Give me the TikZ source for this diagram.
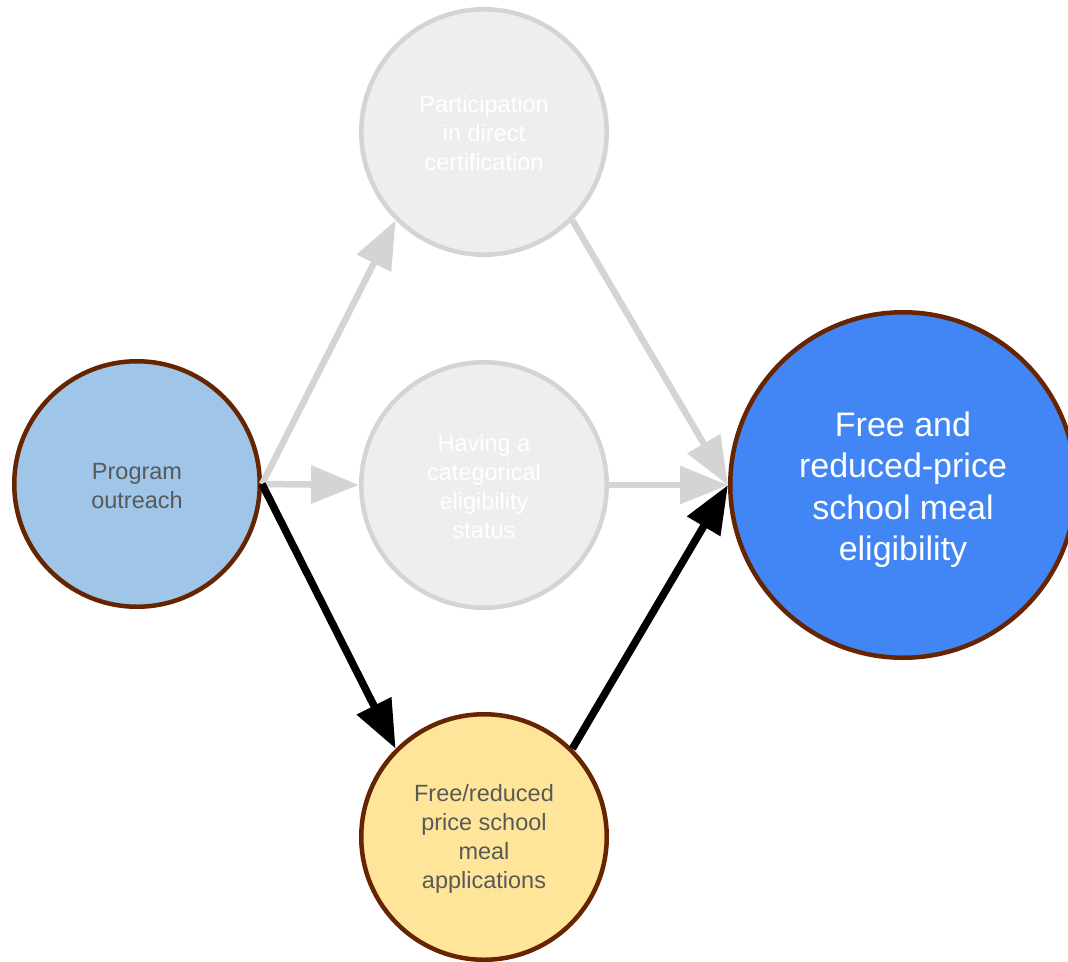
\documentclass[tikz,border=0pt]{standalone}
\usepackage{fontspec}
\setmainfont{Liberation Sans}
\usetikzlibrary{arrows.meta}
\definecolor{brownline}{RGB}{102,36,0}
\definecolor{lightblue}{HTML}{9FC5E8}
\definecolor{bigblue}{HTML}{4285F4}
\definecolor{paleyellow}{HTML}{FFE599}
\definecolor{greyfill}{HTML}{EEEEEE}
\definecolor{greyline}{HTML}{D4D4D4}
\definecolor{darktext}{HTML}{595959}
\newcommand{\firststrut}[1]{\rule{0pt}{#1}}
\tikzset{
  circ/.style={circle, inner sep=0pt, line width=4.5pt, minimum size=245.5pt, align=center,
    font=\fontsize{23.5}{29}\selectfont},
  active/.style={circ, draw=brownline, text=darktext},
  faded/.style={circ, draw=greyline, fill=greyfill, text=white},
  greyarrow/.style={line width=6.5pt, draw=greyline, -{Triangle[length=48pt,width=37pt,fill=greyline]}},
  blackarrow/.style={line width=7.5pt, draw=black, -{Triangle[length=48pt,width=37pt,fill=black]}}
}
\begin{document}
\begin{tikzpicture}[x=1pt,y=-1pt]
\useasboundingbox (0,0) rectangle (1068,961);
\node[active, fill=lightblue] (out) at (137,484) {\firststrut{21pt}Program\\outreach};
\node[faded] (part) at (484,132) {\firststrut{20pt}Participation\\in direct\\certification};
\node[faded] (cat) at (484,485) {\firststrut{21pt}Having a\\categorical\\eligibility\\status};
\node[active, fill=paleyellow] (app) at (484,837) {\firststrut{21pt}Free/reduced\\price school\\meal\\applications};
\node[circ, draw=brownline, fill=bigblue, text=white, minimum size=345.5pt,
  font=\fontsize{34}{41.5}\selectfont] (big) at (903,485) {\firststrut{34pt}Free and\\reduced-price\\school meal\\eligibility};
\draw[greyarrow] (out.east) -- (part.south west);
\draw[greyarrow] (out.east) -- (cat.west);
\draw[greyarrow] (part.south east) -- (big.west);
\draw[greyarrow] (cat.east) -- (big.west);
\draw[blackarrow] (out.east) -- (app.north west);
\draw[blackarrow] (app.north east) -- (big.west);
\end{tikzpicture}
\end{document}
